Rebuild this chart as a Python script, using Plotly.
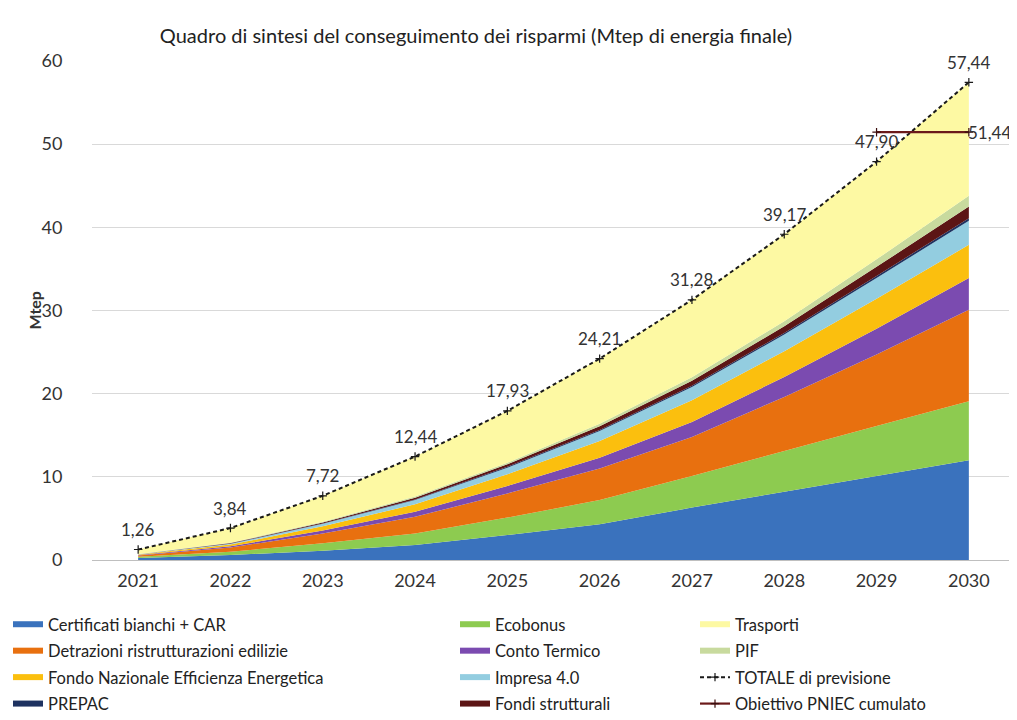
import plotly.graph_objects as go

years = [2021, 2022, 2023, 2024, 2025, 2026, 2027, 2028, 2029, 2030]

certificati = [0.25, 0.6, 1.1, 1.8, 3.0, 4.3, 6.3, 8.2, 10.1, 12.0]
ecobonus = [0.15, 0.4, 0.9, 1.4, 2.1, 2.9, 3.8, 4.9, 6.0, 7.1]
detrazioni = [0.15, 0.5, 1.2, 2.0, 2.9, 3.8, 4.7, 6.5, 8.6, 11.0]
conto_termico = [0.05, 0.15, 0.35, 0.6, 0.9, 1.3, 1.8, 2.4, 3.1, 3.8]
fondo_nazionale = [0.05, 0.2, 0.5, 0.9, 1.4, 2.0, 2.6, 3.1, 3.6, 4.0]
impresa40 = [0.03, 0.1, 0.3, 0.5, 0.8, 1.2, 1.6, 2.0, 2.5, 2.9]
prepac = [0.01, 0.03, 0.05, 0.08, 0.1, 0.13, 0.16, 0.2, 0.25, 0.3]
fondi_strutturali = [0.01, 0.05, 0.1, 0.2, 0.3, 0.45, 0.6, 0.8, 1.1, 1.4]
pif = [0.02, 0.05, 0.1, 0.15, 0.2, 0.3, 0.4, 0.6, 0.9, 1.3]
trasporti = [0.54, 1.76, 3.12, 4.81, 6.23, 7.83, 9.32, 10.47, 11.75, 13.64]

totale = [1.26, 3.84, 7.72, 12.44, 17.93, 24.21, 31.28, 39.17, 47.90, 57.44]
obiettivo_years = [2029, 2030]
obiettivo = [51.44, 51.44]

FONT = "Lato"

def fmt(v):
    return f"{v:.2f}".replace(".", ",")

# (name, values, color, legend, rank)
areas = [
    ("Certificati bianchi + CAR", certificati, "#3A72BD", "legend", 1),
    ("Ecobonus", ecobonus, "#8DCB50", "legend2", 1),
    ("Detrazioni ristrutturazioni edilizie", detrazioni, "#E8700F", "legend", 2),
    ("Conto Termico", conto_termico, "#7B4BB0", "legend2", 2),
    ("Fondo Nazionale Efficienza Energetica", fondo_nazionale, "#FBBF0E", "legend", 3),
    ("Impresa 4.0", impresa40, "#93CDE0", "legend2", 3),
    ("PREPAC", prepac, "#1E3260", "legend", 4),
    ("Fondi strutturali", fondi_strutturali, "#5C1515", "legend2", 4),
    ("PIF", pif, "#C8DA9E", "legend3", 2),
    ("Trasporti", trasporti, "#FDF9A3", "legend3", 1),
]

fig = go.Figure()
for i, (name, vals, color, lg, rank) in enumerate(areas):
    fig.add_trace(go.Scatter(
        x=years, y=vals, name=name, stackgroup="one",
        mode="none", fillcolor=color, legend=lg, legendrank=rank,
        legendgroup=name, hoverinfo="skip",
    ))

fig.add_trace(go.Scatter(
    x=years, y=totale, name="TOTALE di previsione",
    mode="lines+markers",
    line=dict(color="#1a1a1a", width=2, dash="4px,3px"),
    marker=dict(symbol="cross-thin", size=6, line=dict(color="#1a1a1a", width=1.2)),
    legend="legend3", legendrank=3, legendgroup="tot",
    cliponaxis=False,
))

fig.add_trace(go.Scatter(
    x=obiettivo_years, y=obiettivo, name="Obiettivo PNIEC cumulato",
    mode="lines+markers",
    line=dict(color="#6B1A1A", width=2.2),
    marker=dict(symbol="cross-thin", size=6, line=dict(color="#3a0d0d", width=1.2)),
    legend="legend3", legendrank=4, legendgroup="obj",
    cliponaxis=False,
))

annotations = []
for yr, v in zip(years, totale):
    annotations.append(dict(
        x=yr, y=v, text=fmt(v), showarrow=False, yshift=20,
        xanchor="center", yanchor="middle",
        font=dict(family=FONT, size=17, color="#333333"),
    ))
annotations.append(dict(
    x=obiettivo_years[-1], y=obiettivo[-1], text=fmt(obiettivo[-1]),
    showarrow=False, xanchor="right", yanchor="middle", xshift=44,
    font=dict(family=FONT, size=17, color="#333333"),
))
annotations.append(dict(
    text="<b>Mtep</b>", xref="paper", yref="paper",
    x=-58 / 923, y=0.5, textangle=-90, showarrow=False,
    xanchor="center", yanchor="middle",
    font=dict(family=FONT, size=16, color="#333333"),
))

leg_common = dict(
    xref="container", yref="container", yanchor="top", xanchor="left",
    y=1 - 599 / 720, orientation="v", tracegroupgap=2,
    font=dict(family=FONT, size=16.5, color="#222222"),
    bgcolor="rgba(0,0,0,0)", itemwidth=30, traceorder="grouped",
)

fig.update_layout(
    width=1017, height=720,
    paper_bgcolor="white", plot_bgcolor="white",
    margin=dict(l=84, r=10, t=53, b=168, autoexpand=False),
    font=dict(family=FONT, size=14, color="#333333"),
    title=dict(
        text="Quadro di sintesi del conseguimento dei risparmi (Mtep di energia finale)",
        x=468 / 1017, xanchor="center", y=1 - 28 / 720, yanchor="middle",
        font=dict(family=FONT, size=20, color="#222222"),
    ),
    showlegend=True,
    legend=dict(x=0.0, **leg_common),
    legend2=dict(x=447 / 1017, **leg_common),
    legend3=dict(x=687 / 1017, **leg_common),
    xaxis=dict(
        range=[2020.5, 2030.5], tickmode="array", tickvals=years,
        ticktext=[str(y) for y in years], showgrid=False, zeroline=False,
        showline=True, linecolor="#BFBFBF", linewidth=1,
        ticks="outside", ticklen=4, tickcolor="rgba(0,0,0,0)",
        tickfont=dict(family=FONT, size=18, color="#333333"),
    ),
    yaxis=dict(
        range=[0, 60], tickvals=[0, 10, 20, 30, 40, 50, 60],
        showgrid=True, gridcolor="#D9D9D9", gridwidth=1, zeroline=False,
        showline=False, ticks="outside", ticklen=25, tickcolor="rgba(0,0,0,0)",
        tickfont=dict(family=FONT, size=18, color="#333333"),
    ),
    annotations=annotations,
)

fig.write_html("out.html")
